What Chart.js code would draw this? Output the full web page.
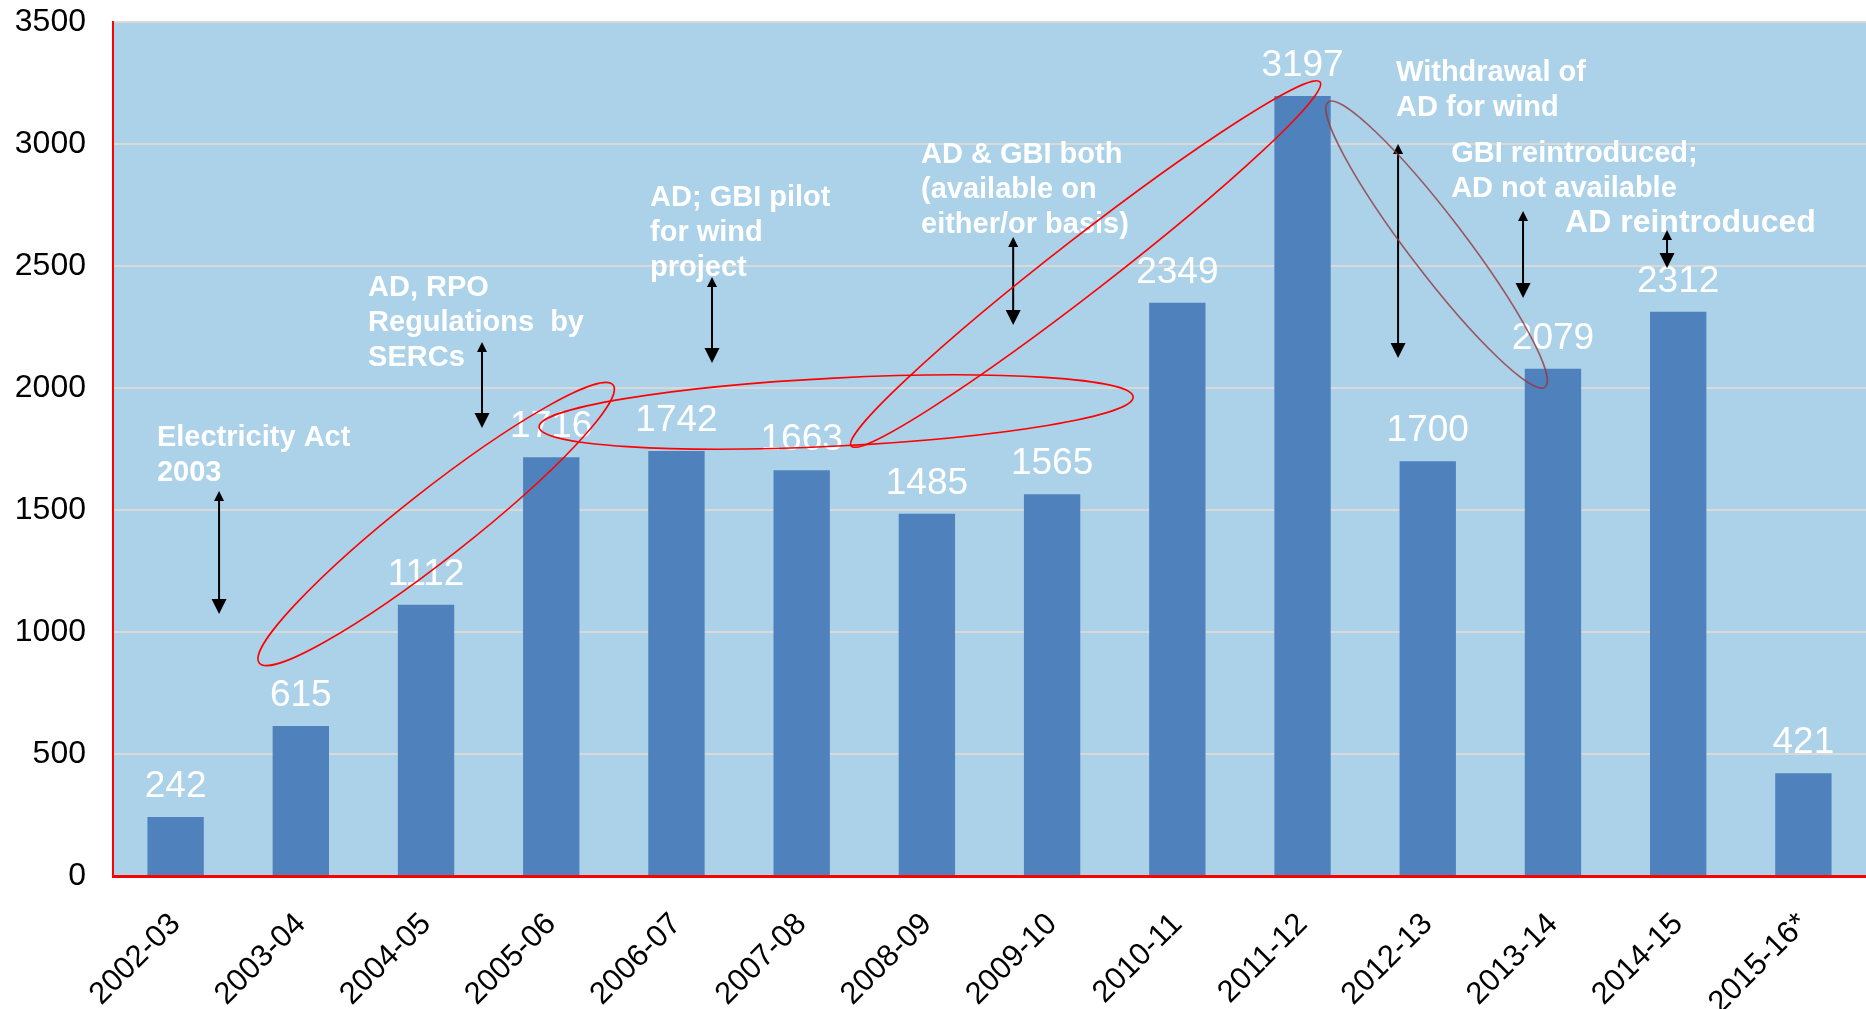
<!DOCTYPE html>
<html lang="en">
<head>
<meta charset="UTF-8">
<title>Wind capacity addition by year</title>
<script src="https://cdnjs.cloudflare.com/ajax/libs/Chart.js/4.4.0/chart.umd.min.js"></script>
<style>
  html, body { margin: 0; padding: 0; background: #ffffff; }
  #wrap { width: 1866px; height: 1009px; }
</style>
</head>
<body>
<div id="wrap"><canvas id="chart" width="1866" height="1009"></canvas></div>
<script>
// Capacity added per fiscal year (MW)
const years = ["2002-03", "2003-04", "2004-05", "2005-06", "2006-07", "2007-08", "2008-09",
               "2009-10", "2010-11", "2011-12", "2012-13", "2013-14", "2014-15", "2015-16*"];
const capacity = [242, 615, 1112, 1716, 1742, 1663, 1485, 1565, 2349, 3197, 1700, 2079, 2312, 421];
const yTicks = [0, 500, 1000, 1500, 2000, 2500, 3000, 3500];

// Policy notes, anchored in chart units: x = category index, y = value of the first baseline
const notes = [
  { x: -0.149, y: 1762, big: false, lines: ["Electricity Act", "2003"] },
  { x: 1.537, y: 2377, big: false, lines: ["AD, RPO", "Regulations  by", "SERCs"] },
  { x: 3.789, y: 2746, big: false, lines: ["AD; GBI pilot", "for wind", "project"] },
  { x: 5.953, y: 2922, big: false, lines: ["AD & GBI both", "(available on", "either/or basis)"] },
  { x: 9.747, y: 3258, big: false, lines: ["Withdrawal of", "AD for wind"] },
  { x: 10.187, y: 2926, big: false, lines: ["GBI reintroduced;", "AD not available"] },
  { x: 11.097, y: 2639, big: true, lines: ["AD reintroduced"] }
];

// Double-headed arrows: category index, top value, bottom value
const arrowX = [0.347, 2.447, 4.284, 6.689, 9.763, 10.761, 11.911];
const arrowTop = [1578, 2189, 2455, 2619, 3000, 2725, 2648];
const arrowBottom = [1074, 1836, 2102, 2258, 2123, 2369, 2492];

// Ellipses drawn round phases: two ends of the long axis (index, value) and half thickness
const rings = [
  { a: [0.668, 873], b: [3.494, 2012], half: 34, color: "#FF0000" },
  { a: [2.903, 1840], b: [7.647, 1963], half: 34, color: "#FF0000" },
  { a: [5.395, 1762], b: [9.140, 3254], half: 27, color: "#FF0000" },
  { a: [9.204, 3172], b: [10.937, 2004], half: 28, color: "rgba(150,55,62,0.8)" }
];

const FONT = "'Liberation Sans', Arial, Helvetica, sans-serif";

const plotBackground = {
  id: "plotBackground",
  beforeDraw(chart) {
    const { ctx, chartArea: a } = chart;
    ctx.save();
    ctx.fillStyle = "#ABD2E8";
    ctx.fillRect(a.left, a.top, a.right - a.left, a.bottom - a.top);
    ctx.restore();
  }
};

const valueLabels = {
  id: "valueLabels",
  afterDatasetsDraw(chart) {
    const ctx = chart.ctx;
    const meta = chart.getDatasetMeta(0);
    ctx.save();
    ctx.font = "37px " + FONT;
    ctx.fillStyle = "#FFFFFF";
    ctx.textAlign = "center";
    ctx.textBaseline = "alphabetic";
    meta.data.forEach((bar, i) => {
      ctx.fillText(String(capacity[i]), bar.x, bar.y - 20);
    });
    ctx.restore();
  }
};

function drawArrow(ctx, x, top, bottom) {
  ctx.beginPath();
  ctx.moveTo(x, top + 9);
  ctx.lineTo(x, bottom - 14);
  ctx.stroke();
  // small head at the top
  ctx.beginPath();
  ctx.moveTo(x, top);
  ctx.lineTo(x - 5, top + 10);
  ctx.lineTo(x + 5, top + 10);
  ctx.closePath();
  ctx.fill();
  // larger head at the bottom
  ctx.beginPath();
  ctx.moveTo(x, bottom);
  ctx.lineTo(x - 7.5, bottom - 15);
  ctx.lineTo(x + 7.5, bottom - 15);
  ctx.closePath();
  ctx.fill();
}

const policyNotes = {
  id: "policyNotes",
  afterDraw(chart) {
    const { ctx, scales: { x: xs, y: ys } } = chart;
    ctx.save();

    ctx.fillStyle = "#FFFFFF";
    ctx.textAlign = "left";
    ctx.textBaseline = "alphabetic";
    notes.forEach(n => {
      ctx.font = "bold " + (n.big ? 32 : 29) + "px " + FONT;
      const left = xs.getPixelForValue(n.x);
      const base = ys.getPixelForValue(n.y);
      n.lines.forEach((t, k) => ctx.fillText(t, left, base + k * 34.8));
    });

    ctx.strokeStyle = "#000000";
    ctx.fillStyle = "#000000";
    ctx.lineWidth = 2;
    arrowX.forEach((v, i) => {
      drawArrow(ctx, xs.getPixelForValue(v), ys.getPixelForValue(arrowTop[i]), ys.getPixelForValue(arrowBottom[i]));
    });

    rings.forEach(r => {
      const x1 = xs.getPixelForValue(r.a[0]), y1 = ys.getPixelForValue(r.a[1]);
      const x2 = xs.getPixelForValue(r.b[0]), y2 = ys.getPixelForValue(r.b[1]);
      const len = Math.hypot(x2 - x1, y2 - y1) / 2;
      ctx.beginPath();
      ctx.ellipse((x1 + x2) / 2, (y1 + y2) / 2, len, r.half, Math.atan2(y2 - y1, x2 - x1), 0, Math.PI * 2);
      ctx.strokeStyle = r.color;
      ctx.lineWidth = 1.6;
      ctx.stroke();
    });

    ctx.restore();
  }
};

new Chart(document.getElementById("chart"), {
  type: "bar",
  data: {
    labels: years,
    datasets: [{
      data: capacity,
      backgroundColor: "#4F81BD",
      borderWidth: 0,
      categoryPercentage: 0.45,
      barPercentage: 1.0
    }]
  },
  options: {
    responsive: false,
    animation: false,
    devicePixelRatio: 1,
    layout: { padding: { top: 22, left: 0, right: 0, bottom: 0 } },
    plugins: {
      legend: { display: false },
      tooltip: { enabled: false }
    },
    scales: {
      x: {
        offset: true,
        z: 1,
        grid: { display: false, drawTicks: false },
        border: { color: "#FF0000", width: 3 },
        ticks: {
          color: "#000000",
          font: { family: FONT, size: 31 },
          minRotation: 45,
          maxRotation: 45,
          autoSkip: false,
          padding: 30
        },
        afterFit(scale) {
          scale.height = 133;
          scale.paddingTop = 0;
          scale.paddingBottom = 0;
        }
      },
      y: {
        min: 0,
        max: 3500,
        afterBuildTicks(scale) { scale.ticks = yTicks.map(v => ({ value: v })); },
        grid: { color: "#D9D9D9", lineWidth: 2, drawTicks: false },
        border: { color: "#FF0000", width: 2 },
        ticks: {
          color: "#000000",
          font: { family: FONT, size: 32 },
          padding: 27,
          callback: v => String(v)
        },
        afterFit(scale) {
          scale.width = 113;
          scale.paddingTop = 0;
          scale.paddingBottom = 0;
        }
      }
    }
  },
  plugins: [plotBackground, valueLabels, policyNotes]
});
</script>
</body>
</html>
